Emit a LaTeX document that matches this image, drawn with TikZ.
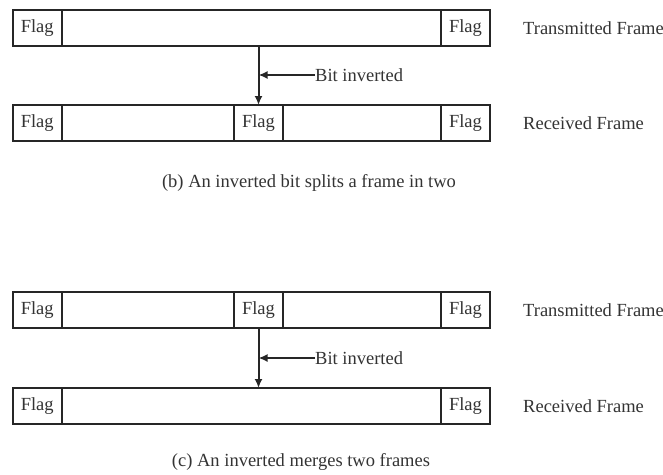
\documentclass[tikz,border=0pt]{standalone}
\usepackage{fontspec}
\setmainfont{Liberation Serif}
\usetikzlibrary{positioning,arrows.meta}
\tikzset{
    cell/.style={draw=black!85, line width=2pt, minimum height=36pt, inner sep=0pt, outer sep=0pt},
    flag/.style={cell, minimum width=49pt, font=\fontsize{18.5}{21}\selectfont, text=black!80},
    lbl/.style={inner sep=0pt, font=\fontsize{18.5}{21}\selectfont, text=black!80},
}
\begin{document}
\begin{tikzpicture}[>={Latex[length=9pt,width=8pt]}, x=1pt, y=-1pt]
    \useasboundingbox (0,0) rectangle (663,474);

    % 1. (b) Khung truyen bi tach
    \node[flag, anchor=north west] (b1a) at (12.7,10) {Flag};
    \node[cell, minimum width=379.3pt, right=0pt of b1a] (b1b) {};
    \node[flag, right=0pt of b1b] (b1c) {Flag};
    \node[lbl, anchor=west, right=33pt of b1c] (b1lab) {Transmitted Frame};

    \node[flag, anchor=north west] (b2a) at (12.7,105) {Flag};
    \node[cell, minimum width=172.3pt, right=0pt of b2a] (b2b) {};
    \node[flag, right=0pt of b2b] (b2c) {Flag};
    \node[cell, minimum width=158pt, right=0pt of b2c] (b2d) {};
    \node[flag, right=0pt of b2d] (b2e) {Flag};
    \node[lbl, anchor=west, right=33pt of b2e] (b2lab) {Received Frame};

    \node[lbl, anchor=west] (bbit) at (315,75) {Bit inverted};
    \draw[->, line width=2pt, black!85] (b2c.north |- b1b.south) -- (b2c.north);
    \draw[->, line width=2pt, black!85] (bbit.west) -- (b2c.north |- bbit.west);

    \node[lbl] (bcap) at (309,183) {(b) An inverted bit splits a frame in two};

    % 2. (c) Hai khung bi gop
    \node[flag, anchor=north west] (c1a) at (12.7,292) {Flag};
    \node[cell, minimum width=172.3pt, right=0pt of c1a] (c1b) {};
    \node[flag, right=0pt of c1b] (c1c) {Flag};
    \node[cell, minimum width=158pt, right=0pt of c1c] (c1d) {};
    \node[flag, right=0pt of c1d] (c1e) {Flag};
    \node[lbl, anchor=west, right=33pt of c1e] (c1lab) {Transmitted Frame};

    \node[flag, anchor=north west] (c2a) at (12.7,388) {Flag};
    \node[cell, minimum width=379.3pt, right=0pt of c2a] (c2b) {};
    \node[flag, right=0pt of c2b] (c2c) {Flag};
    \node[lbl, anchor=west, right=33pt of c2c] (c2lab) {Received Frame};

    \node[lbl, anchor=west] (cbit) at (315,358) {Bit inverted};
    \draw[->, line width=2pt, black!85] (c1c.south) -- (c1c.south |- c2b.north);
    \draw[->, line width=2pt, black!85] (cbit.west) -- (c1c.south |- cbit.west);

    \node[lbl] (ccap) at (301,462) {(c) An inverted merges two frames};
\end{tikzpicture}
\end{document}
